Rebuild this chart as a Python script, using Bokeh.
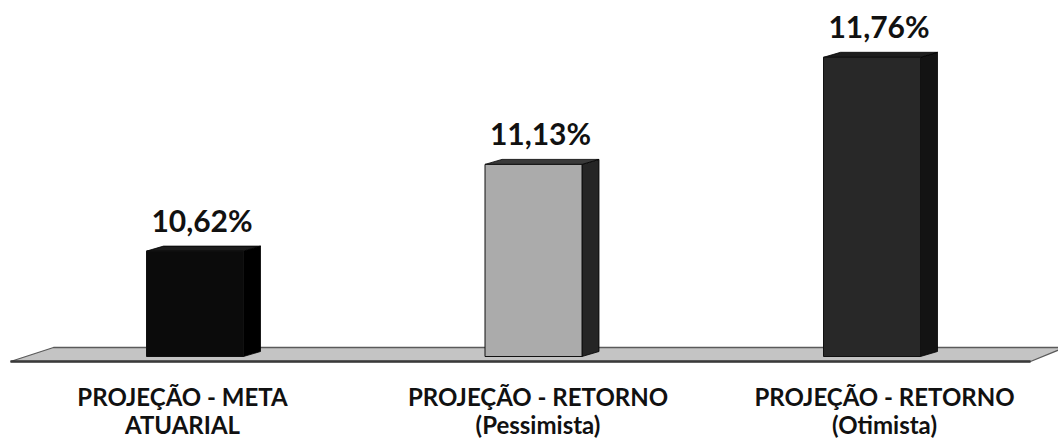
from bokeh.plotting import figure
from bokeh.models import ColumnDataSource, Range1d
from bokeh.embed import file_html
from bokeh.resources import INLINE
from bokeh.core.properties import value

# ---- data ----
cat_line1 = ["PROJEÇÃO - META", "PROJEÇÃO - RETORNO", "PROJEÇÃO - RETORNO"]
cat_line2 = ["ATUARIAL", "(Pessimista)", "(Otimista)"]
values = [10.62, 11.13, 11.76]
value_labels = ["10,62%", "11,13%", "11,76%"]

# ---- style ----
front_colors = ["#0b0b0b", "#ababab", "#282828"]
side_colors = ["#000000", "#252525", "#131313"]
top_colors = ["#1c1c1c", "#3a3a3a", "#1e1e1e"]

W, H = 1058, 441
BASE = 10.0
PXY = 170.0      # pixels per 1 percentage point
PXX = 338.5      # pixels per category
BASE_PX = 356.0  # baseline pixel from top of canvas
FIRST_PX = 194.5 # first bar front-centre pixel from left of canvas

y0 = BASE - (H - BASE_PX) / PXY
y1 = BASE + BASE_PX / PXY
x0 = -FIRST_PX / PXX
x1 = x0 + W / PXX

p = figure(width=W, height=H, output_backend="svg", toolbar_location=None,
           x_range=Range1d(x0, x1), y_range=Range1d(y0, y1),
           min_border=0, min_border_left=0, min_border_right=0,
           min_border_top=0, min_border_bottom=0)
p.axis.visible = False
p.grid.visible = False
p.outline_line_color = None
p.background_fill_color = "white"
p.border_fill_color = "white"

# ---- floor (decorative slab under the bars) ----
ft = BASE + 9 / PXY
fb = BASE - 5 / PXY
floor_x = [x0 + 53 / PXX, x0 + 10 / PXX, x0 + 1030 / PXX, x0 + 1064 / PXX]
floor_y = [ft, fb, fb, ft]
p.patch(floor_x, floor_y, fill_color="#c4c4c4", line_color="#5a5a5a", line_width=1.3)
p.line([floor_x[1], floor_x[2]], [fb, fb], line_color="#3a3a3a", line_width=2.5)

# ---- 3D bars ----
half = 48.5 / PXX
dx = 17 / PXX
dy = 5 / PXY
idx = list(range(len(values)))

side_xs, side_ys, top_xs, top_ys = [], [], [], []
for i, v in zip(idx, values):
    side_xs.append([i + half, i + half, i + half + dx, i + half + dx])
    side_ys.append([BASE, v, v + dy, BASE + dy])
    top_xs.append([i - half, i - half + dx, i + half + dx, i + half])
    top_ys.append([v, v + dy, v + dy, v])

p.patches(xs=side_xs, ys=side_ys, fill_color=side_colors, line_color="#000000", line_width=0.8)
p.patches(xs=top_xs, ys=top_ys, fill_color=top_colors, line_color="#000000", line_width=0.8)
src = ColumnDataSource(dict(x=idx, top=values, color=front_colors))
p.vbar(x="x", width=2 * half, bottom=BASE, top="top", source=src,
       fill_color="color", line_color="#111111", line_width=1)

# ---- value labels ----
lab = ColumnDataSource(dict(x=[i + 7 / PXX for i in idx],
                            y=[v + 31 / PXY for v in values],
                            t=value_labels))
p.text(x="x", y="y", text="t", source=lab, text_font=value("Lato"),
       text_font_style="bold", text_font_size="30px", text_color="#111111",
       text_align="center", text_baseline="alphabetic")

# ---- category labels ----
cat_offsets_px = [-12.5, 4.5, 12.5]
cx = [i + o / PXX for i, o in zip(idx, cat_offsets_px)]
c1 = ColumnDataSource(dict(x=cx, y=[BASE - 40 / PXY] * 3, t=cat_line1))
c2 = ColumnDataSource(dict(x=cx, y=[BASE - 68 / PXY] * 3, t=cat_line2))
for s in (c1, c2):
    p.text(x="x", y="y", text="t", source=s, text_font=value("Lato"),
           text_font_style="bold", text_font_size="24px", text_color="#111111",
           text_align="center", text_baseline="alphabetic")

open("out.html", "w").write(file_html(p, INLINE))
